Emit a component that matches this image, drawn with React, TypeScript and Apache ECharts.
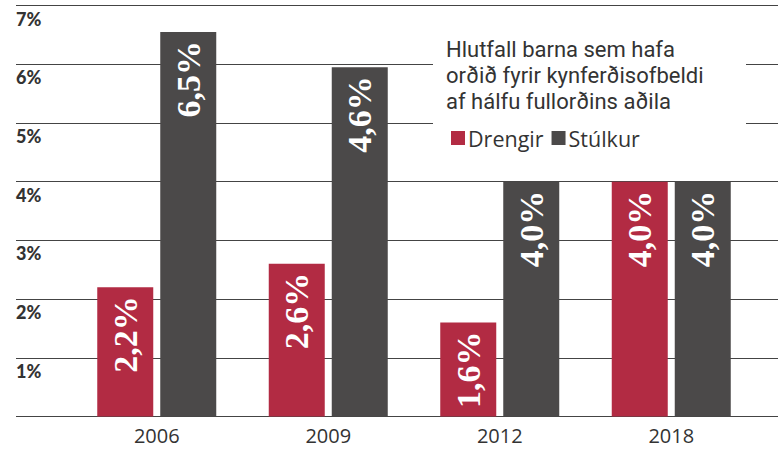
import React, { useEffect, useRef } from "react";
import * as echarts from "echarts";

const years = ["2006", "2009", "2012", "2018"];
const drengir = [2.2, 2.6, 1.6, 4.0];
const stulkur = [6.55, 5.95, 4.0, 4.0];
const drengirLabels = ["2,2%", "2,6%", "1,6%", "4,0%"];
const stulkurLabels = ["6,5%", "4,6%", "4,0%", "4,0%"];
const yTicks = [0, 1, 2, 3, 4, 5, 6, 7];
const titleLines = ["Hlutfall barna sem hafa", "orðið fyrir kynferðisofbeldi", "af hálfu fullorðins aðila"];

const RED = "#B22B43";
const GRAY = "#4B4949";

export default function App() {
  const ref = useRef<HTMLDivElement>(null);
  useEffect(() => {
    const chart = echarts.init(ref.current!, null, { renderer: "svg" });
    const labelOf = (arr: string[]) => ({
      show: true,
      position: "insideTop",
      distance: 9,
      rotate: 90,
      align: "right",
      verticalAlign: "middle",
      color: "#fff",
      fontFamily: "Liberation Serif",
      fontWeight: "bold",
      fontSize: 34,
      formatter: (p: any) => arr[p.dataIndex],
    });
    chart.setOption({
      animation: false,
      backgroundColor: "#fff",
      grid: [
        { left: 71, right: 21, top: 5.5, bottom: 33.5 },
        { left: 16, right: 0, top: 5.5, bottom: 33.5 },
      ],
      xAxis: [
        {
          type: "category",
          data: years,
          gridIndex: 0,
          axisLine: { show: false },
          axisTick: { show: false },
          axisLabel: { color: "#333", fontSize: 20, fontFamily: "Open Sans", margin: 9 },
        },
        {
          type: "category",
          data: years,
          gridIndex: 1,
          show: false,
        },
      ],
      yAxis: [
        { type: "value", min: 0, max: 7, interval: 1, gridIndex: 0, show: false },
        {
          type: "value",
          min: yTicks[0],
          max: yTicks[yTicks.length - 1],
          interval: 1,
          gridIndex: 1,
          axisLine: { show: false },
          axisTick: { show: false },
          splitLine: { show: true, lineStyle: { color: "#444", width: 1 } },
          axisLabel: {
            inside: true,
            margin: 0,
            align: "left",
            verticalAlign: "top",
            padding: [4, 0, 0, 0],
            color: "#333",
            fontFamily: "Lato",
            fontWeight: 900,
            fontSize: 18,
            formatter: (v: number) => (v === 0 ? "" : v + "%"),
          },
        },
      ],
      legend: {
        left: 446,
        top: 122,
        icon: "rect",
        itemWidth: 14,
        itemHeight: 14,
        itemGap: 8,
        z: 6,
        textStyle: { color: "#333", fontSize: 21.5, fontFamily: "Open Sans", padding: [0, 0, 0, -2] },
        data: ["Drengir", "Stúlkur"],
      },
      graphic: [
        { type: "rect", z: 1, shape: { x: 433, y: 30, width: 313, height: 120 }, style: { fill: "#fff" } },
        ...titleLines.map((line, i) => ({
          type: "text",
          z: 5,
          left: 446,
          top: 38 + i * 26,
          style: {
            text: line,
            fill: "#333",
            fontSize: 22,
            fontFamily: "Roboto",
          },
        })),
      ],
      series: [
        {
          name: "Drengir",
          type: "bar",
          xAxisIndex: 0,
          yAxisIndex: 0,
          data: drengir,
          barWidth: 56,
          barGap: "12.5%",
          itemStyle: { color: RED },
          label: labelOf(drengirLabels),
          z: 3,
        },
        {
          name: "Stúlkur",
          type: "bar",
          xAxisIndex: 0,
          yAxisIndex: 0,
          data: stulkur,
          barWidth: 56,
          barGap: "12.5%",
          itemStyle: { color: GRAY },
          label: labelOf(stulkurLabels),
          z: 3,
        },
      ],
    });
    return () => chart.dispose();
  }, []);
  return <div ref={ref} style={{ width: 778, height: 450, position: "absolute", left: 0, top: 0 }} />;
}
